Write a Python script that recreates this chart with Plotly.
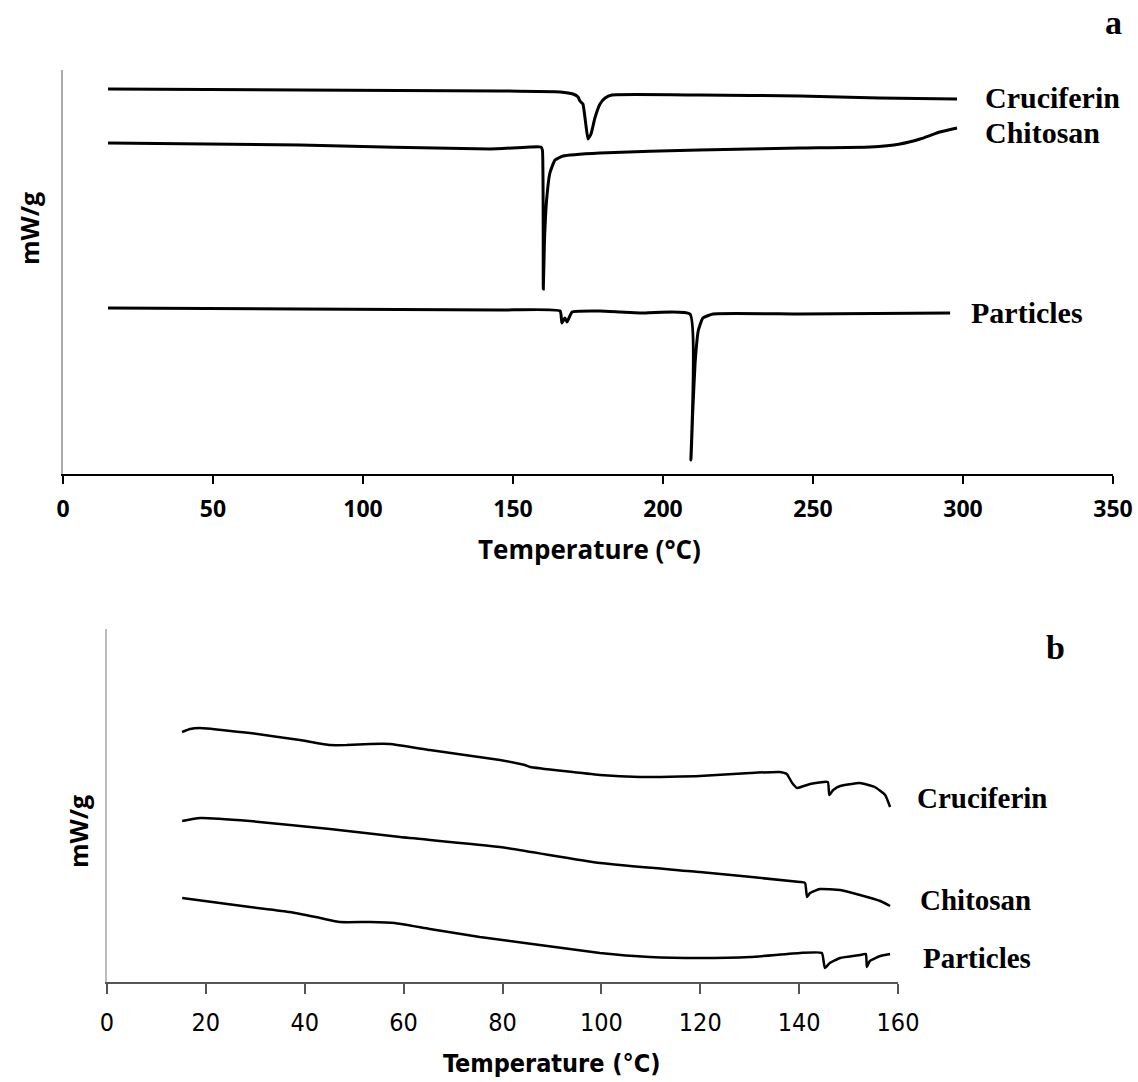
import plotly.graph_objects as go

W, H = 1138, 1082

# ---------------- Panel a data (Temperature °C, heat flow arbitrary mW/g) ----------------
a_cru_T = [15, 79, 145.7, 165.7, 170, 171.7, 172.3, 173.3, 174.3, 175, 176, 177.3, 179, 180.7, 183, 212.3, 245.7, 272, 298]
a_cru_y = [3.85, 3.84, 3.83, 3.82, 3.80, 3.77, 3.73, 3.70, 3.49, 3.35, 3.40, 3.56, 3.70, 3.76, 3.79, 3.79, 3.78, 3.76, 3.75]

a_chi_T = [15, 79, 142.3, 155.7, 159.3, 159.8, 160.1, 160.5, 161.2, 162.3, 164, 166.7, 179, 212, 245.7, 269, 279, 285.7, 292.3, 298]
a_chi_y = [3.31, 3.29, 3.25, 3.27, 3.27, 3.24, 1.85, 2.34, 2.74, 3.01, 3.14, 3.18, 3.21, 3.24, 3.26, 3.27, 3.30, 3.35, 3.42, 3.46]

a_par_T = [15, 79, 145.7, 165.7, 166.3, 167.3, 168, 169.7, 179, 185.7, 192.3, 209, 209.3, 209.9, 210.7, 211.8, 213.3, 216.7, 245.7, 295.7]
a_par_y = [1.66, 1.65, 1.64, 1.63, 1.51, 1.56, 1.52, 1.62, 1.63, 1.62, 1.61, 1.60, 0.14, 0.61, 1.11, 1.44, 1.56, 1.60, 1.60, 1.61]

# ---------------- Panel b data ----------------
b_cru_T = [15.2, 16.8, 18.8, 28.9, 39.0, 45.1, 48.5, 53.2, 57.2, 65.3, 79.5, 84.5, 85.6, 99.7, 107.8, 119.9, 130.1, 136.1, 137.5, 138.6, 139.6, 142.2, 145.8, 146.1, 146.9, 148.3, 152.3, 155.3, 157.4, 158.4]
b_cru_y = [2.50, 2.53, 2.54, 2.49, 2.42, 2.37, 2.37, 2.38, 2.38, 2.32, 2.22, 2.17, 2.15, 2.07, 2.05, 2.06, 2.09, 2.10, 2.08, 1.99, 1.94, 1.98, 2.00, 1.87, 1.92, 1.96, 1.99, 1.95, 1.87, 1.75]

b_chi_T = [15.2, 18.8, 28.9, 45.1, 59.3, 79.5, 99.7, 119.9, 140.2, 141.2, 141.6, 142.2, 144.2, 148.3, 152.3, 156.4, 158.4]
b_chi_y = [1.61, 1.64, 1.61, 1.53, 1.45, 1.35, 1.19, 1.10, 1.00, 0.99, 0.85, 0.89, 0.93, 0.92, 0.87, 0.81, 0.76]

b_par_T = [15.2, 28.9, 37.0, 43.1, 47.1, 53.2, 58.2, 65.3, 75.4, 84.5, 99.7, 109.8, 119.9, 130.1, 140.2, 144.6, 145.2, 146.2, 148.3, 152.3, 153.5, 153.7, 154.3, 156.4, 158.4]
b_par_y = [0.84, 0.75, 0.70, 0.64, 0.60, 0.60, 0.59, 0.53, 0.45, 0.39, 0.29, 0.25, 0.24, 0.25, 0.29, 0.29, 0.14, 0.19, 0.24, 0.27, 0.28, 0.15, 0.21, 0.26, 0.28]

series_names = ["Cruciferin", "Chitosan", "Particles"]
a_ticks = [0, 50, 100, 150, 200, 250, 300, 350]
b_ticks = [0, 20, 40, 60, 80, 100, 120, 140, 160]

fig = go.Figure()
for T, y in [(a_cru_T, a_cru_y), (a_chi_T, a_chi_y), (a_par_T, a_par_y)]:
    fig.add_trace(go.Scatter(x=T, y=y, mode="lines", xaxis="x", yaxis="y",
                             line=dict(color="black", width=3, shape="spline", smoothing=0.4),
                             showlegend=False, hoverinfo="skip"))
for T, y in [(b_cru_T, b_cru_y), (b_chi_T, b_chi_y), (b_par_T, b_par_y)]:
    fig.add_trace(go.Scatter(x=T, y=y, mode="lines", xaxis="x2", yaxis="y2",
                             line=dict(color="black", width=2.5, shape="spline", smoothing=0.4),
                             showlegend=False, hoverinfo="skip"))

def px(x): return x / W
def py(y): return 1 - y / H

serif = "Liberation Serif, Times New Roman, serif"
sans_a = "Open Sans, sans-serif"
sans_b = "DejaVu Sans Condensed, sans-serif"

ann = []
def add(text, x, y, font, xanchor="center", textangle=0):
    ann.append(dict(text=text, x=px(x), y=py(y), xref="paper", yref="paper",
                    xanchor=xanchor, yanchor="middle", showarrow=False,
                    textangle=textangle, font=font))

# panel a labels
for name, (x, y) in zip(series_names, [(983, 97), (983, 132), (969, 312)]):
    add(name, x, y, dict(family=serif, size=30, color="black", weight="bold"), xanchor="left")
add("a", 1113, 22, dict(family=serif, size=34, color="black", weight="bold"))
add("mW/g", 29, 229, dict(family=sans_a, size=25, color="black", weight="bold"), textangle=-90)
add("Temperature (°C)", 589, 549, dict(family=sans_a, size=26, color="black", weight="bold"))
# panel b labels
for name, (x, y) in zip(series_names, [(915, 798), (918, 900), (921, 958)]):
    add(name, x, y, dict(family=serif, size=29, color="black", weight="bold"), xanchor="left")
add("b", 1055, 647, dict(family=serif, size=34, color="black", weight="bold"))
add("mW/g", 78, 832, dict(family=sans_a, size=25, color="black", weight="bold"), textangle=-90)
add("Temperature (°C)", 552, 1063, dict(family=sans_b, size=25, color="black", weight="bold"))

fig.update_layout(
    width=W, height=H, autosize=False, margin=dict(l=0, r=0, t=0, b=0, pad=0),
    paper_bgcolor="white", plot_bgcolor="white",
    xaxis=dict(domain=[px(63), px(1113)], range=[0, 350], tickvals=a_ticks, anchor="y",
               showline=True, linecolor="black", linewidth=1.5, ticks="outside", ticklen=8,
               tickcolor="black", tickwidth=1.5, showgrid=False, zeroline=False,
               ticklabelstandoff=6, automargin=False,
               tickfont=dict(family=sans_a, size=23, color="black", weight="bold")),
    yaxis=dict(domain=[py(474), py(70)], range=[0, 4.04], anchor="x",
               showline=True, linecolor="#aaaaaa", linewidth=1.5, showticklabels=False,
               ticks="", showgrid=False, zeroline=False, automargin=False),
    xaxis2=dict(domain=[px(107), px(898)], range=[0, 160], tickvals=b_ticks, anchor="y2",
                showline=True, linecolor="#555555", linewidth=1.5, ticks="outside", ticklen=10,
                tickcolor="#555555", tickwidth=1.5, showgrid=False, zeroline=False,
                ticklabelstandoff=7, automargin=False,
                tickfont=dict(family=sans_b, size=25, color="black")),
    yaxis2=dict(domain=[py(982), py(629)], range=[0, 3.53], anchor="x2",
                showline=True, linecolor="#bbbbbb", linewidth=2, showticklabels=False,
                ticks="", showgrid=False, zeroline=False, automargin=False),
    annotations=ann,
)

fig.write_html("out.html")
